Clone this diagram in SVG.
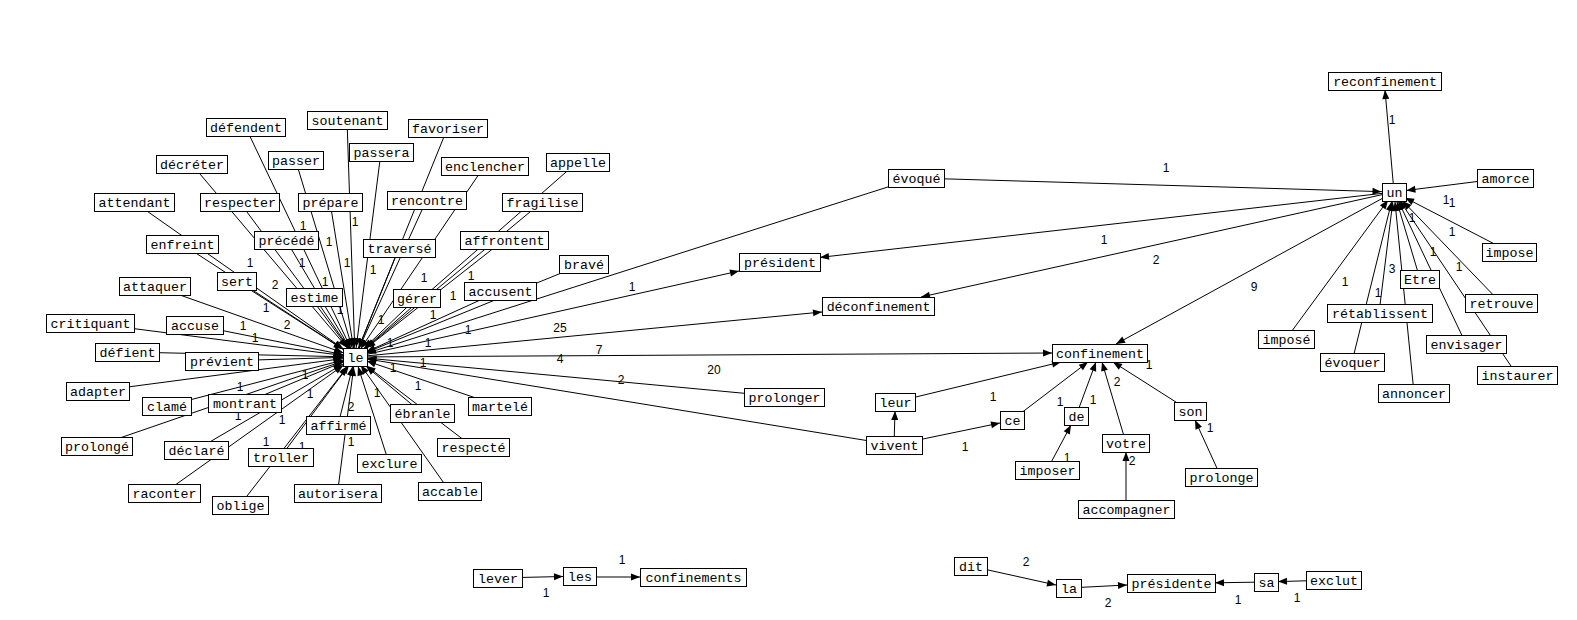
<svg xmlns="http://www.w3.org/2000/svg" width="1577" height="620" viewBox="0 0 1577 620">
<style>
.e{stroke:#000;stroke-width:1;fill:none}
.mA{marker-end:url(#aA)}
.mB{marker-end:url(#aB)}
.mC{marker-end:url(#aC)}
.m0{marker-end:url(#a0)}
rect{fill:#fff;stroke:#000;stroke-width:1}
.n{font-family:"Liberation Mono","DejaVu Sans Mono",monospace;font-size:13.3px;text-anchor:middle;fill:#000}
.l{font-family:"Liberation Sans",Arial,sans-serif;font-size:12px;text-anchor:middle;fill:#000}
</style>
<defs>
<marker id="a0" markerUnits="userSpaceOnUse" markerWidth="9" markerHeight="7" refX="9" refY="3.5" orient="auto" overflow="visible"><path d="M0,0 L9,3.5 L0,7 z" fill="#000"/></marker>
<marker id="aA" markerUnits="userSpaceOnUse" markerWidth="9" markerHeight="7" refX="19" refY="3.5" orient="auto" overflow="visible"><path d="M0,0 L9,3.5 L0,7 z" fill="#000"/></marker>
<marker id="aB" markerUnits="userSpaceOnUse" markerWidth="9" markerHeight="7" refX="21.5" refY="3.5" orient="auto" overflow="visible"><path d="M0,0 L9,3.5 L0,7 z" fill="#000"/></marker>
<marker id="aC" markerUnits="userSpaceOnUse" markerWidth="9" markerHeight="7" refX="23.5" refY="3.5" orient="auto" overflow="visible"><path d="M0,0 L9,3.5 L0,7 z" fill="#000"/></marker>
</defs>
<rect x="0" y="0" width="1577" height="620" style="fill:#fff;stroke:none"/>
<g id="connectors">
<path class="e mA" d="M245.5,127 L355,357"/>
<path class="e mB" d="M191.5,164 L355,357"/>
<path class="e mA" d="M295.5,160 L355,357"/>
<path class="e mC" d="M134,202 L355,357"/>
<path class="e mA" d="M239.5,202 L355,357"/>
<path class="e mA" d="M330,202 L355,357"/>
<path class="e mA" d="M286,240 L355,357"/>
<path class="e mC" d="M182,244 L355,357"/>
<path class="e mA" d="M347,120 L355,357"/>
<path class="e mA" d="M447.5,128 L355,357"/>
<path class="e mA" d="M381,152 L355,357"/>
<path class="e mA" d="M484.5,166 L355,357"/>
<path class="e mB" d="M577.5,162 L355,357"/>
<path class="e mA" d="M426.5,200 L355,357"/>
<path class="e mC" d="M542,202 L355,357"/>
<path class="e mA" d="M399,248 L355,357"/>
<path class="e mC" d="M504,240 L355,357"/>
<path class="e mB" d="M583.5,264 L355,357"/>
<path class="e mC" d="M236.5,281 L355,357"/>
<path class="e mB" d="M154.5,286 L355,357"/>
<path class="e mA" d="M314,297 L355,357"/>
<path class="e mB" d="M90,323 L355,357"/>
<path class="e mB" d="M194.5,325 L355,357"/>
<path class="e mB" d="M127,352 L355,357"/>
<path class="e mB" d="M221.5,361 L355,357"/>
<path class="e mB" d="M97.5,391 L355,357"/>
<path class="e mB" d="M166.5,406 L355,357"/>
<path class="e mB" d="M244.5,403 L355,357"/>
<path class="e mB" d="M96.5,446 L355,357"/>
<path class="e mC" d="M196,450 L355,357"/>
<path class="e mA" d="M280.5,457 L355,357"/>
<path class="e mC" d="M164,493 L355,357"/>
<path class="e mB" d="M240,505 L355,357"/>
<path class="e mA" d="M338,425 L355,357"/>
<path class="e mA" d="M337.5,493 L355,357"/>
<path class="e mC" d="M422,413 L355,357"/>
<path class="e mB" d="M499.5,406 L355,357"/>
<path class="e mA" d="M389,463 L355,357"/>
<path class="e mC" d="M473,447 L355,357"/>
<path class="e mA" d="M449.5,491 L355,357"/>
<path class="e mB" d="M416.5,298 L355,357"/>
<path class="e mB" d="M500,291 L355,357"/>
<path class="e mB" d="M916,178 L355,357"/>
<path class="e mB" d="M784,397 L355,357"/>
<path class="e mB" d="M894,445 L355,357"/>
<path class="e m0" d="M355,357 L739,271"/>
<path class="e m0" d="M355,357 L822,312"/>
<path class="e m0" d="M355,357 L1052,353"/>
<path class="e mB" d="M916,178 L1394,192"/>
<path class="e mB" d="M1505,178 L1394,192"/>
<path class="e mB" d="M1510,252 L1394,192"/>
<path class="e mB" d="M1501,303 L1394,192"/>
<path class="e mA" d="M1517,375 L1394,192"/>
<path class="e mA" d="M1466,344 L1394,192"/>
<path class="e mA" d="M1420,279 L1394,192"/>
<path class="e mA" d="M1414,393 L1394,192"/>
<path class="e mA" d="M1379,313 L1394,192"/>
<path class="e mA" d="M1352,362 L1394,192"/>
<path class="e mA" d="M1286,339 L1394,192"/>
<path class="e m0" d="M1394,192 L1385,90"/>
<path class="e m0" d="M1394,192 L820,257.4"/>
<path class="e m0" d="M1394,192 L921,297"/>
<path class="e m0" d="M1394,192 L1116,344"/>
<path class="e m0" d="M895,402 L1061,362"/>
<path class="e m0" d="M1012,420 L1088,362"/>
<path class="e m0" d="M1076,416 L1096,362"/>
<path class="e m0" d="M1126,443 L1102,362"/>
<path class="e m0" d="M1190,411 L1113,362"/>
<path class="e m0" d="M894,445 L895,411"/>
<path class="e m0" d="M894,445 L1000,423"/>
<path class="e m0" d="M1047,470 L1071,425"/>
<path class="e m0" d="M1126,509 L1126,452"/>
<path class="e m0" d="M1221,477 L1195,420"/>
<path class="e m0" d="M497,578 L563,576.5"/>
<path class="e m0" d="M579,577 L640,577"/>
<path class="e m0" d="M970,566 L1056,585"/>
<path class="e m0" d="M1068,588 L1127,585"/>
<path class="e m0" d="M1266,582 L1215,582.8"/>
<path class="e m0" d="M1334,580 L1278,581.6"/>
</g>
<g id="edge-labels">
<text class="l" x="303" y="230">1</text>
<text class="l" x="329" y="246">1</text>
<text class="l" x="355" y="226">1</text>
<text class="l" x="250" y="267">1</text>
<text class="l" x="302" y="267">1</text>
<text class="l" x="347" y="267">1</text>
<text class="l" x="373" y="274">1</text>
<text class="l" x="275" y="289">2</text>
<text class="l" x="325" y="286">1</text>
<text class="l" x="424" y="282">1</text>
<text class="l" x="471" y="280">1</text>
<text class="l" x="453" y="300">1</text>
<text class="l" x="266" y="312">1</text>
<text class="l" x="340" y="314">1</text>
<text class="l" x="381" y="324">1</text>
<text class="l" x="433" y="319">1</text>
<text class="l" x="468" y="334">1</text>
<text class="l" x="243" y="330">1</text>
<text class="l" x="287" y="329">2</text>
<text class="l" x="255" y="342">1</text>
<text class="l" x="390" y="347">1</text>
<text class="l" x="428" y="347">1</text>
<text class="l" x="560" y="332">25</text>
<text class="l" x="599" y="354">7</text>
<text class="l" x="560" y="363">4</text>
<text class="l" x="423" y="367">1</text>
<text class="l" x="393" y="372">1</text>
<text class="l" x="305" y="379">1</text>
<text class="l" x="418" y="390">1</text>
<text class="l" x="377" y="397">1</text>
<text class="l" x="310" y="398">1</text>
<text class="l" x="240" y="391">1</text>
<text class="l" x="351" y="411">2</text>
<text class="l" x="238" y="420">1</text>
<text class="l" x="282" y="424">1</text>
<text class="l" x="266" y="446">1</text>
<text class="l" x="302" y="451">1</text>
<text class="l" x="351" y="446">1</text>
<text class="l" x="632" y="291">1</text>
<text class="l" x="714" y="374">20</text>
<text class="l" x="621" y="384">2</text>
<text class="l" x="1392" y="124">1</text>
<text class="l" x="1446" y="204">1</text>
<text class="l" x="1452" y="207">1</text>
<text class="l" x="1452" y="236">1</text>
<text class="l" x="1412" y="222">1</text>
<text class="l" x="1433" y="256">1</text>
<text class="l" x="1459" y="271">1</text>
<text class="l" x="1392" y="273">3</text>
<text class="l" x="1345" y="286">1</text>
<text class="l" x="1378" y="297">1</text>
<text class="l" x="1254" y="291">9</text>
<text class="l" x="1166" y="172">1</text>
<text class="l" x="1104" y="244">1</text>
<text class="l" x="1156" y="264">2</text>
<text class="l" x="993" y="401">1</text>
<text class="l" x="1060" y="406">1</text>
<text class="l" x="1093" y="404">1</text>
<text class="l" x="1117" y="386">2</text>
<text class="l" x="1149" y="369">1</text>
<text class="l" x="965" y="451">1</text>
<text class="l" x="1067" y="462">1</text>
<text class="l" x="1132" y="465">2</text>
<text class="l" x="1210" y="432">1</text>
<text class="l" x="622" y="564">1</text>
<text class="l" x="546" y="597">1</text>
<text class="l" x="1026" y="566">2</text>
<text class="l" x="1108" y="607">2</text>
<text class="l" x="1238" y="604">1</text>
<text class="l" x="1297" y="602">1</text>
</g>
<g id="n-defendent"><rect x="206.5" y="118.5" width="79" height="18"/><text class="n" x="246" y="132">défendent</text></g>
<g id="n-decreter"><rect x="156.5" y="155.5" width="71" height="18"/><text class="n" x="192" y="169">décréter</text></g>
<g id="n-passer"><rect x="268.5" y="151.5" width="55" height="18"/><text class="n" x="296" y="165">passer</text></g>
<g id="n-attendant"><rect x="94.5" y="193.5" width="80" height="18"/><text class="n" x="134.5" y="207">attendant</text></g>
<g id="n-respecter"><rect x="200.5" y="193.5" width="79" height="18"/><text class="n" x="240" y="207">respecter</text></g>
<g id="n-prepare"><rect x="298.5" y="193.5" width="64" height="18"/><text class="n" x="330.5" y="207">prépare</text></g>
<g id="n-precede"><rect x="254.5" y="231.5" width="64" height="18"/><text class="n" x="286.5" y="245">précédé</text></g>
<g id="n-enfreint"><rect x="146.5" y="235.5" width="72" height="18"/><text class="n" x="182.5" y="249">enfreint</text></g>
<g id="n-soutenant"><rect x="307.5" y="111.5" width="80" height="18"/><text class="n" x="347.5" y="125">soutenant</text></g>
<g id="n-favoriser"><rect x="408.5" y="119.5" width="79" height="18"/><text class="n" x="448" y="133">favoriser</text></g>
<g id="n-passera"><rect x="349.5" y="143.5" width="64" height="18"/><text class="n" x="381.5" y="157">passera</text></g>
<g id="n-enclencher"><rect x="441.5" y="157.5" width="87" height="18"/><text class="n" x="485" y="171">enclencher</text></g>
<g id="n-appelle"><rect x="546.5" y="153.5" width="63" height="18"/><text class="n" x="578" y="167">appelle</text></g>
<g id="n-rencontre"><rect x="387.5" y="191.5" width="79" height="18"/><text class="n" x="427" y="205">rencontre</text></g>
<g id="n-fragilise"><rect x="502.5" y="193.5" width="80" height="18"/><text class="n" x="542.5" y="207">fragilise</text></g>
<g id="n-traverse"><rect x="363.5" y="239.5" width="72" height="18"/><text class="n" x="399.5" y="253">traversé</text></g>
<g id="n-affrontent"><rect x="460.5" y="231.5" width="88" height="18"/><text class="n" x="504.5" y="245">affrontent</text></g>
<g id="n-brave"><rect x="559.5" y="255.5" width="49" height="18"/><text class="n" x="584" y="269">bravé</text></g>
<g id="n-sert"><rect x="217.5" y="272.5" width="39" height="18"/><text class="n" x="237" y="286">sert</text></g>
<g id="n-attaquer"><rect x="119.5" y="277.5" width="71" height="18"/><text class="n" x="155" y="291">attaquer</text></g>
<g id="n-estime"><rect x="286.5" y="288.5" width="56" height="18"/><text class="n" x="314.5" y="302">estime</text></g>
<g id="n-critiquant"><rect x="46.5" y="314.5" width="88" height="18"/><text class="n" x="90.5" y="328">critiquant</text></g>
<g id="n-accuse"><rect x="166.5" y="316.5" width="57" height="18"/><text class="n" x="195" y="330">accuse</text></g>
<g id="n-defient"><rect x="95.5" y="343.5" width="64" height="18"/><text class="n" x="127.5" y="357">défient</text></g>
<g id="n-previent"><rect x="185.5" y="352.5" width="73" height="18"/><text class="n" x="222" y="366">prévient</text></g>
<g id="n-adapter"><rect x="66.5" y="382.5" width="63" height="18"/><text class="n" x="98" y="396">adapter</text></g>
<g id="n-clame"><rect x="142.5" y="397.5" width="49" height="18"/><text class="n" x="167" y="411">clamé</text></g>
<g id="n-montrant"><rect x="208.5" y="394.5" width="73" height="18"/><text class="n" x="245" y="408">montrant</text></g>
<g id="n-prolonge2"><rect x="61.5" y="437.5" width="71" height="18"/><text class="n" x="97" y="451">prolongé</text></g>
<g id="n-declare"><rect x="164.5" y="441.5" width="64" height="18"/><text class="n" x="196.5" y="455">déclaré</text></g>
<g id="n-troller"><rect x="248.5" y="448.5" width="65" height="18"/><text class="n" x="281" y="462">troller</text></g>
<g id="n-raconter"><rect x="128.5" y="484.5" width="72" height="18"/><text class="n" x="164.5" y="498">raconter</text></g>
<g id="n-oblige"><rect x="212.5" y="496.5" width="56" height="18"/><text class="n" x="240.5" y="510">oblige</text></g>
<g id="n-affirme"><rect x="306.5" y="416.5" width="64" height="18"/><text class="n" x="338.5" y="430">affirmé</text></g>
<g id="n-autorisera"><rect x="294.5" y="484.5" width="87" height="18"/><text class="n" x="338" y="498">autorisera</text></g>
<g id="n-ebranle"><rect x="390.5" y="404.5" width="64" height="18"/><text class="n" x="422.5" y="418">ébranle</text></g>
<g id="n-martele"><rect x="468.5" y="397.5" width="63" height="18"/><text class="n" x="500" y="411">martelé</text></g>
<g id="n-exclure"><rect x="357.5" y="454.5" width="64" height="18"/><text class="n" x="389.5" y="468">exclure</text></g>
<g id="n-respecte"><rect x="437.5" y="438.5" width="72" height="18"/><text class="n" x="473.5" y="452">respecté</text></g>
<g id="n-accable"><rect x="418.5" y="482.5" width="63" height="18"/><text class="n" x="450" y="496">accable</text></g>
<g id="n-gerer"><rect x="393.5" y="289.5" width="47" height="18"/><text class="n" x="417" y="303">gérer</text></g>
<g id="n-accusent"><rect x="464.5" y="282.5" width="72" height="18"/><text class="n" x="500.5" y="296">accusent</text></g>
<g id="n-le"><rect x="343.5" y="348.5" width="24" height="18"/><text class="n" x="355.5" y="362">le</text></g>
<g id="n-evoque"><rect x="888.5" y="169.5" width="56" height="18"/><text class="n" x="916.5" y="183">évoqué</text></g>
<g id="n-president"><rect x="739.5" y="253.5" width="81" height="18"/><text class="n" x="780" y="267">président</text></g>
<g id="n-deconfinement"><rect x="822.5" y="297.5" width="112" height="18"/><text class="n" x="878.5" y="311">déconfinement</text></g>
<g id="n-confinement"><rect x="1052.5" y="344.5" width="95" height="18"/><text class="n" x="1100" y="358">confinement</text></g>
<g id="n-prolonger"><rect x="744.5" y="388.5" width="80" height="18"/><text class="n" x="784.5" y="402">prolonger</text></g>
<g id="n-leur"><rect x="875.5" y="393.5" width="40" height="18"/><text class="n" x="895.5" y="407">leur</text></g>
<g id="n-ce"><rect x="1000.5" y="411.5" width="24" height="18"/><text class="n" x="1012.5" y="425">ce</text></g>
<g id="n-de"><rect x="1064.5" y="407.5" width="24" height="18"/><text class="n" x="1076.5" y="421">de</text></g>
<g id="n-son"><rect x="1174.5" y="402.5" width="32" height="18"/><text class="n" x="1190.5" y="416">son</text></g>
<g id="n-vivent"><rect x="866.5" y="436.5" width="56" height="18"/><text class="n" x="894.5" y="450">vivent</text></g>
<g id="n-votre"><rect x="1102.5" y="434.5" width="47" height="18"/><text class="n" x="1126" y="448">votre</text></g>
<g id="n-imposer"><rect x="1015.5" y="461.5" width="64" height="18"/><text class="n" x="1047.5" y="475">imposer</text></g>
<g id="n-prolonge"><rect x="1185.5" y="468.5" width="72" height="18"/><text class="n" x="1221.5" y="482">prolonge</text></g>
<g id="n-accompagner"><rect x="1078.5" y="500.5" width="96" height="18"/><text class="n" x="1126.5" y="514">accompagner</text></g>
<g id="n-un"><rect x="1382.5" y="183.5" width="24" height="18"/><text class="n" x="1394.5" y="197">un</text></g>
<g id="n-reconfinement"><rect x="1328.5" y="72.5" width="113" height="18"/><text class="n" x="1385" y="86">reconfinement</text></g>
<g id="n-amorce"><rect x="1477.5" y="169.5" width="56" height="18"/><text class="n" x="1505.5" y="183">amorce</text></g>
<g id="n-impose"><rect x="1482.5" y="243.5" width="54" height="18"/><text class="n" x="1509.5" y="257">impose</text></g>
<g id="n-etre"><rect x="1400.5" y="270.5" width="39" height="18"/><text class="n" x="1420" y="284">Etre</text></g>
<g id="n-retablissent"><rect x="1327.5" y="304.5" width="105" height="18"/><text class="n" x="1380" y="318">rétablissent</text></g>
<g id="n-retrouve"><rect x="1465.5" y="294.5" width="72" height="18"/><text class="n" x="1501.5" y="308">retrouve</text></g>
<g id="n-impose2"><rect x="1258.5" y="330.5" width="56" height="18"/><text class="n" x="1286.5" y="344">imposé</text></g>
<g id="n-envisager"><rect x="1426.5" y="335.5" width="80" height="18"/><text class="n" x="1466.5" y="349">envisager</text></g>
<g id="n-evoquer"><rect x="1320.5" y="353.5" width="64" height="18"/><text class="n" x="1352.5" y="367">évoquer</text></g>
<g id="n-instaurer"><rect x="1477.5" y="366.5" width="80" height="18"/><text class="n" x="1517.5" y="380">instaurer</text></g>
<g id="n-annoncer"><rect x="1378.5" y="384.5" width="71" height="18"/><text class="n" x="1414" y="398">annoncer</text></g>
<g id="n-lever"><rect x="473.5" y="569.5" width="49" height="18"/><text class="n" x="498" y="583">lever</text></g>
<g id="n-les"><rect x="563.5" y="567.5" width="33" height="18"/><text class="n" x="580" y="581">les</text></g>
<g id="n-confinements"><rect x="640.5" y="568.5" width="106" height="18"/><text class="n" x="693.5" y="582">confinements</text></g>
<g id="n-dit"><rect x="954.5" y="557.5" width="33" height="18"/><text class="n" x="971" y="571">dit</text></g>
<g id="n-la"><rect x="1056.5" y="579.5" width="25" height="18"/><text class="n" x="1069" y="593">la</text></g>
<g id="n-presidente"><rect x="1127.5" y="574.5" width="88" height="18"/><text class="n" x="1171.5" y="588">présidente</text></g>
<g id="n-sa"><rect x="1254.5" y="573.5" width="24" height="18"/><text class="n" x="1266.5" y="587">sa</text></g>
<g id="n-exclut"><rect x="1306.5" y="571.5" width="55" height="18"/><text class="n" x="1334" y="585">exclut</text></g>
</svg>
